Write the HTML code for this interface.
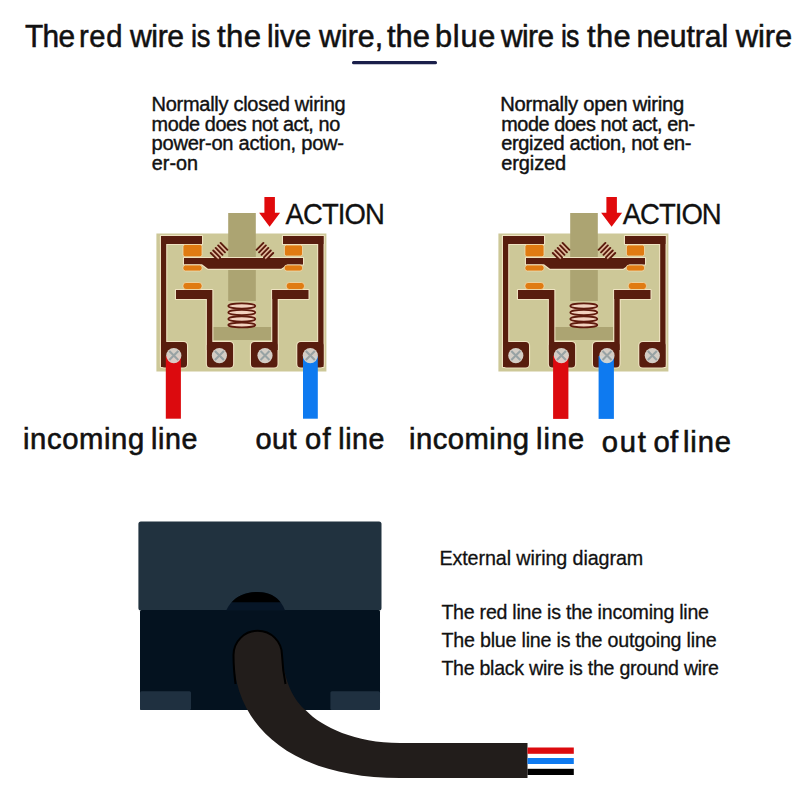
<!DOCTYPE html>
<html><head><meta charset="utf-8">
<style>
html,body{margin:0;padding:0;background:#fff;width:800px;height:800px;overflow:hidden}
svg{display:block}
text{font-family:"Liberation Sans",sans-serif;fill:#111}
</style></head><body>
<svg width="800" height="800" viewBox="0 0 800 800">
<defs>
<g id="relay">
  <!-- board -->
  <rect x="156.4" y="233.5" width="170" height="138" fill="#cdc898"/>
  <!-- plunger column -->
  <rect x="228.2" y="213" width="27.6" height="88" fill="#aca472"/>
  <!-- plunger base -->
  <rect x="213" y="327" width="58.3" height="13" fill="#aca472"/>
  <!-- frame -->
  <g fill="#efe3c2" stroke="#efe3c2" stroke-width="2.2" stroke-linejoin="round">
    <rect x="161" y="236" width="41" height="8"/>
    <rect x="161" y="236" width="5.2" height="131"/>
    <rect x="161" y="342" width="26" height="25.5" rx="3.5"/>
    <rect x="283" y="236" width="40.5" height="8"/>
    <rect x="318.2" y="236" width="5.3" height="131"/>
    <rect x="297.3" y="342" width="26.2" height="25.5" rx="3.5"/>
    <!-- L shapes -->
    <rect x="176" y="290" width="36" height="9"/>
    <rect x="206.9" y="290" width="5.4" height="60"/>
    <rect x="206.9" y="342" width="26.2" height="25.5" rx="3.5"/>
    <rect x="272.3" y="290" width="36.2" height="9"/>
    <rect x="272.3" y="290" width="5.4" height="60"/>
    <rect x="251" y="342" width="26.5" height="25.5" rx="3.5"/>
    <!-- moving contact -->
    <path d="M184 258 H303 V264.4 H287.5 L281.2 268.8 H208 L202 264.3 H184 Z"/>
  </g>
  <g fill="#581d0e">
    <rect x="161" y="236" width="41" height="8"/>
    <rect x="161" y="236" width="5.2" height="131"/>
    <rect x="161" y="342" width="26" height="25.5" rx="3.5"/>
    <rect x="283" y="236" width="40.5" height="8"/>
    <rect x="318.2" y="236" width="5.3" height="131"/>
    <rect x="297.3" y="342" width="26.2" height="25.5" rx="3.5"/>
    <!-- L shapes -->
    <rect x="176" y="290" width="36" height="9"/>
    <rect x="206.9" y="290" width="5.4" height="60"/>
    <rect x="206.9" y="342" width="26.2" height="25.5" rx="3.5"/>
    <rect x="272.3" y="290" width="36.2" height="9"/>
    <rect x="272.3" y="290" width="5.4" height="60"/>
    <rect x="251" y="342" width="26.5" height="25.5" rx="3.5"/>
    <!-- moving contact -->
    <path d="M184 258 H303 V264.4 H287.5 L281.2 268.8 H208 L202 264.3 H184 Z"/>
  </g>
  <!-- orange contacts -->
  <g fill="#e07b12" stroke="#f0dcb0" stroke-width="0.8">
    <rect x="183" y="244.5" width="19" height="12.3" rx="2"/>
    <rect x="284.4" y="245" width="18.1" height="11" rx="2"/>
    <rect x="183" y="265" width="19" height="6" rx="2.5"/>
    <rect x="284.4" y="265" width="18.1" height="6" rx="2.5"/>
    <rect x="183" y="282.5" width="19" height="7" rx="3"/>
    <rect x="286.3" y="282.5" width="18.1" height="7" rx="3"/>
  </g>
  <!-- small diagonal springs -->
  <path d="M220.6 242.9 L227.4 249.8 L217.6 259.9 L210.8 253 Z" fill="#e9b9a0" opacity="0.8"/>
  <path d="M263.4 242.9 L256.6 249.8 L266.4 259.9 L273.2 253 Z" fill="#e9b9a0" opacity="0.8"/>
  <g stroke="#5a1a0c" stroke-width="1.9" fill="none" stroke-linecap="round">
    <path d="M220.60 242.90 l6.8 6.9 M218.15 245.42 l6.8 6.9 M215.70 247.94 l6.8 6.9 M213.25 250.46 l6.8 6.9 M210.80 252.98 l6.8 6.9"/>
    <path d="M263.40 242.90 l-6.8 6.9 M265.85 245.42 l-6.8 6.9 M268.30 247.94 l-6.8 6.9 M270.75 250.46 l-6.8 6.9 M273.20 252.98 l-6.8 6.9"/>
  </g>
  <!-- bottom spring -->
  <rect x="228.5" y="303.5" width="27" height="23.5" fill="#edc8b2"/>
  <g stroke="#5e1a0c" stroke-width="1.7" fill="#f2d2bf">
    <ellipse cx="241.8" cy="306" rx="13.5" ry="2.6"/>
    <ellipse cx="241.8" cy="312.5" rx="13.5" ry="2.6"/>
    <ellipse cx="241.8" cy="319" rx="13.5" ry="2.6"/>
    <ellipse cx="241.8" cy="325" rx="13.5" ry="2.4"/>
  </g>
</g>
<g id="screws">
  <g fill="#dcd9d1" opacity="0.94">
    <circle cx="173.8" cy="355.6" r="7.6"/>
    <circle cx="219.4" cy="355.6" r="7.6"/>
    <circle cx="265" cy="355.6" r="7.6"/>
    <circle cx="310.3" cy="355.6" r="7.6"/>
  </g>
  <g stroke="#98a2a4" stroke-width="2.1">
    <path d="M169.3 351.1 l9 9 M178.3 351.1 l-9 9"/>
    <path d="M214.9 351.1 l9 9 M223.9 351.1 l-9 9"/>
    <path d="M260.5 351.1 l9 9 M269.5 351.1 l-9 9"/>
    <path d="M305.8 351.1 l9 9 M314.8 351.1 l-9 9"/>
  </g>
</g>
</defs>

<!-- Title -->
<rect x="352" y="61" width="85" height="3.2" rx="1.5" fill="#1a1f4a"/>

<!-- Left subtitle -->
<!-- Right subtitle -->

<!-- Left relay -->
<use href="#relay"/>
<rect x="165.8" y="356" width="15.1" height="62.7" fill="#dc0a0e"/>
<rect x="303" y="356" width="14.8" height="62.7" fill="#0e7af0"/>
<use href="#screws"/>
<path d="M264.4 197 H274.9 V212.8 H280.1 L269.6 226.8 L259.1 212.8 H264.4 Z" fill="#e00a0c"/>

<!-- Right relay -->
<g transform="translate(342 0)">
  <use href="#relay"/>
  <rect x="211.1" y="356" width="15.3" height="62.9" fill="#dc0a0e"/>
  <rect x="256.6" y="356" width="15.3" height="62.9" fill="#0e7af0"/>
  <use href="#screws"/>
  <path d="M264.4 197 H274.9 V212.8 H280.1 L269.6 226.8 L259.1 212.8 H264.4 Z" fill="#e00a0c"/>
</g>

<!-- labels -->

<!-- Bottom box -->
<rect x="138.4" y="521.6" width="243.1" height="89" rx="2.5" fill="#21323f"/>
<rect x="140" y="610" width="240" height="100" rx="1.5" fill="#04121f"/>
<rect x="140" y="691.3" width="51" height="18.7" rx="1.5" fill="#1f3040"/>
<rect x="330.4" y="691.3" width="49.6" height="18.7" rx="1.5" fill="#1f3040"/>
<path d="M226.2 610.5 C231 600 241 592 257 592 C273 592 281 600 285.1 610.5 Z" fill="#071627"/>
<clipPath id="crc"><rect x="200" y="580" width="100" height="22.3"/></clipPath>
<path d="M226.2 610.5 C231 600 241 592 257 592 C273 592 281 600 285.1 610.5 Z" fill="#000" clip-path="url(#crc)"/>
<path d="M233.5 655 C233.5 641.6 244.4 630.75 257.75 630.75 C271.1 630.75 282 641.6 282 655 C284 680 293 700 306 710.5 C322 727 355 743 400 743 H527.5 V778 H400 C290 778 234 725 233.5 655 Z" fill="#221d1b"/>
<path d="M235.5 684 C234 672 233.5 662 233.5 655 C233.5 641.6 244.4 630.75 257.75 630.75 C271.1 630.75 282 641.6 282 655 C282.4 664 283.5 674 285.5 684" fill="none" stroke="#000" stroke-width="2"/>
<rect x="527.5" y="747.5" width="46.3" height="6.3" fill="#dc0a0e"/>
<rect x="527.5" y="758" width="46.3" height="6" fill="#0e7af0"/>
<rect x="527.5" y="768.8" width="46.3" height="6.2" fill="#000"/>

<!-- right text -->
<text transform="translate(25.00 46.9) scale(0.9383702831108318 1)" font-size="31.8" word-spacing="0.00" stroke="#111" stroke-width="0.55" textLength="53.39" lengthAdjust="spacing">The</text>
<text transform="translate(79.00 46.9) scale(0.9182087225688927 1)" font-size="31.8" word-spacing="0.00" stroke="#111" stroke-width="0.55" textLength="47.34" lengthAdjust="spacing">red</text>
<text transform="translate(130.00 46.9) scale(0.9489123461126321 1)" font-size="31.8" word-spacing="0.00" stroke="#111" stroke-width="0.55" textLength="56.96" lengthAdjust="spacing">wire</text>
<text transform="translate(191.00 46.9) scale(0.8603829388225348 1)" font-size="31.8" word-spacing="0.00" stroke="#111" stroke-width="0.55" textLength="22.66" lengthAdjust="spacing">is</text>
<text transform="translate(217.00 46.9) scale(0.980510271633097 1)" font-size="31.8" word-spacing="0.00" stroke="#111" stroke-width="0.55" textLength="44.94" lengthAdjust="spacing">the</text>
<text transform="translate(267.00 46.9) scale(0.9297840942681724 1)" font-size="31.8" word-spacing="0.00" stroke="#111" stroke-width="0.55" textLength="47.59" lengthAdjust="spacing">live</text>
<text transform="translate(319.00 46.9) scale(0.9551280951199643 1)" font-size="31.8" word-spacing="0.00" stroke="#111" stroke-width="0.55" textLength="67.18" lengthAdjust="spacing">wire,</text>
<text transform="translate(387.00 46.9) scale(0.974725499780219 1)" font-size="31.8" word-spacing="0.00" stroke="#111" stroke-width="0.55" textLength="44.14" lengthAdjust="spacing">the</text>
<text transform="translate(435.00 46.9) scale(0.9672639574526026 1)" font-size="31.8" word-spacing="0.00" stroke="#111" stroke-width="0.55" textLength="62.36" lengthAdjust="spacing">blue</text>
<text transform="translate(501.00 46.9) scale(0.9375477164339825 1)" font-size="31.8" word-spacing="0.00" stroke="#111" stroke-width="0.55" textLength="56.58" lengthAdjust="spacing">wire</text>
<text transform="translate(561.00 46.9) scale(0.8411898269022295 1)" font-size="31.8" word-spacing="0.00" stroke="#111" stroke-width="0.55" textLength="21.77" lengthAdjust="spacing">is</text>
<text transform="translate(587.00 46.9) scale(0.9735644207501396 1)" font-size="31.8" word-spacing="0.00" stroke="#111" stroke-width="0.55" textLength="44.89" lengthAdjust="spacing">the</text>
<text transform="translate(636.40 46.9) scale(0.9508003262053898 1)" font-size="31.8" word-spacing="0.00" stroke="#111" stroke-width="0.55" textLength="96.59" lengthAdjust="spacing">neutral</text>
<text transform="translate(735.80 46.9) scale(0.9721252976005402 1)" font-size="31.8" word-spacing="0.00" stroke="#111" stroke-width="0.55" textLength="58.08" lengthAdjust="spacing">wire</text>
<text transform="translate(151.60 110.9) scale(0.9535499071954382 1)" font-size="21.0" word-spacing="0.00" stroke="#111" stroke-width="0.4" textLength="203.52" lengthAdjust="spacing">Normally closed wiring</text>
<text transform="translate(151.60 130.5) scale(0.9458254691762715 1)" font-size="21.0" word-spacing="0.00" stroke="#111" stroke-width="0.4" textLength="199.44" lengthAdjust="spacing">mode does not act, no</text>
<text transform="translate(151.60 149.6) scale(0.9592231218504329 1)" font-size="21.0" word-spacing="0.00" stroke="#111" stroke-width="0.4" textLength="200.61" lengthAdjust="spacing">power-on action, pow-</text>
<text transform="translate(151.80 170.1) scale(0.9419776215090835 1)" font-size="21.0" word-spacing="0.00" stroke="#111" stroke-width="0.45" textLength="49.00" lengthAdjust="spacing">er-on</text>
<text transform="translate(500.20 110.9) scale(0.9607888607843537 1)" font-size="21.0" word-spacing="0.00" stroke="#111" stroke-width="0.45" textLength="191.56" lengthAdjust="spacing">Normally open wiring</text>
<text transform="translate(501.20 130.5) scale(0.944702582578238 1)" font-size="21.0" word-spacing="0.00" stroke="#111" stroke-width="0.45" textLength="205.18" lengthAdjust="spacing">mode does not act, en-</text>
<text transform="translate(501.20 149.6) scale(0.9519347585427026 1)" font-size="21.0" word-spacing="0.00" stroke="#111" stroke-width="0.45" textLength="199.82" lengthAdjust="spacing">ergized action, not en-</text>
<text transform="translate(501.20 170.1) scale(0.9503046338850547 1)" font-size="21.0" word-spacing="0.00" stroke="#111" stroke-width="0.45" textLength="68.31" lengthAdjust="spacing">ergized</text>
<text transform="translate(285.60 224.2) scale(0.9279957040547528 1)" font-size="29.6" word-spacing="0.00" stroke="#111" stroke-width="0.3" textLength="106.98" lengthAdjust="spacing">ACTION</text>
<text transform="translate(622.80 224.4) scale(0.9299210084149658 1)" font-size="29.6" word-spacing="0.00" stroke="#111" stroke-width="0.3" textLength="106.32" lengthAdjust="spacing">ACTION</text>
<text transform="translate(439.40 565.0) scale(0.9715211383095648 1)" font-size="20.3" word-spacing="0.00" stroke="#111" stroke-width="0.3" textLength="209.83" lengthAdjust="spacing">External wiring diagram</text>
<text transform="translate(441.40 619.2) scale(0.9660070231226134 1)" font-size="20.3" word-spacing="0.00" stroke="#111" stroke-width="0.3" textLength="277.02" lengthAdjust="spacing">The red line is the incoming line</text>
<text transform="translate(441.40 647.3) scale(0.9697164020628527 1)" font-size="20.3" word-spacing="0.00" stroke="#111" stroke-width="0.3" textLength="283.80" lengthAdjust="spacing">The blue line is the outgoing line</text>
<text transform="translate(441.40 675.3) scale(0.9642478268577961 1)" font-size="20.3" word-spacing="0.00" stroke="#111" stroke-width="0.3" textLength="287.91" lengthAdjust="spacing">The black wire is the ground wire</text>
<text transform="translate(23.00 448.8) scale(1.0 1)" font-size="29.2" word-spacing="0.00" stroke="#111" stroke-width="0.6" textLength="121.11" lengthAdjust="spacing">incoming</text>
<text transform="translate(151.00 448.8) scale(0.981638197512484 1)" font-size="29.2" word-spacing="0.00" stroke="#111" stroke-width="0.6" textLength="47.26" lengthAdjust="spacing">line</text>
<text transform="translate(255.40 448.8) scale(0.9926812354144402 1)" font-size="29.2" word-spacing="0.00" stroke="#111" stroke-width="0.6" textLength="41.38" lengthAdjust="spacing">out</text>
<text transform="translate(305.00 448.8) scale(1.0 1)" font-size="29.2" word-spacing="0.00" stroke="#111" stroke-width="0.6" textLength="25.69" lengthAdjust="spacing">of</text>
<text transform="translate(338.20 448.8) scale(0.9782706466013141 1)" font-size="29.2" word-spacing="0.00" stroke="#111" stroke-width="0.6" textLength="47.29" lengthAdjust="spacing">line</text>
<text transform="translate(409.00 448.8) scale(1.0 1)" font-size="29.2" word-spacing="0.00" stroke="#111" stroke-width="0.6" textLength="120.09" lengthAdjust="spacing">incoming</text>
<text transform="translate(536.00 448.8) scale(0.994994433185824 1)" font-size="29.2" word-spacing="0.00" stroke="#111" stroke-width="0.6" textLength="48.46" lengthAdjust="spacing">line</text>
<text transform="translate(601.80 451.6) scale(1.0 1)" font-size="29.2" word-spacing="0.00" stroke="#111" stroke-width="0.6" textLength="44.06" lengthAdjust="spacing">out</text>
<text transform="translate(653.40 451.6) scale(1.0 1)" font-size="29.2" word-spacing="0.00" stroke="#111" stroke-width="0.6" textLength="24.61" lengthAdjust="spacing">of</text>
<text transform="translate(683.00 451.6) scale(0.997203080594244 1)" font-size="29.2" word-spacing="0.00" stroke="#111" stroke-width="0.6" textLength="48.14" lengthAdjust="spacing">line</text>
</svg>
</body></html>
